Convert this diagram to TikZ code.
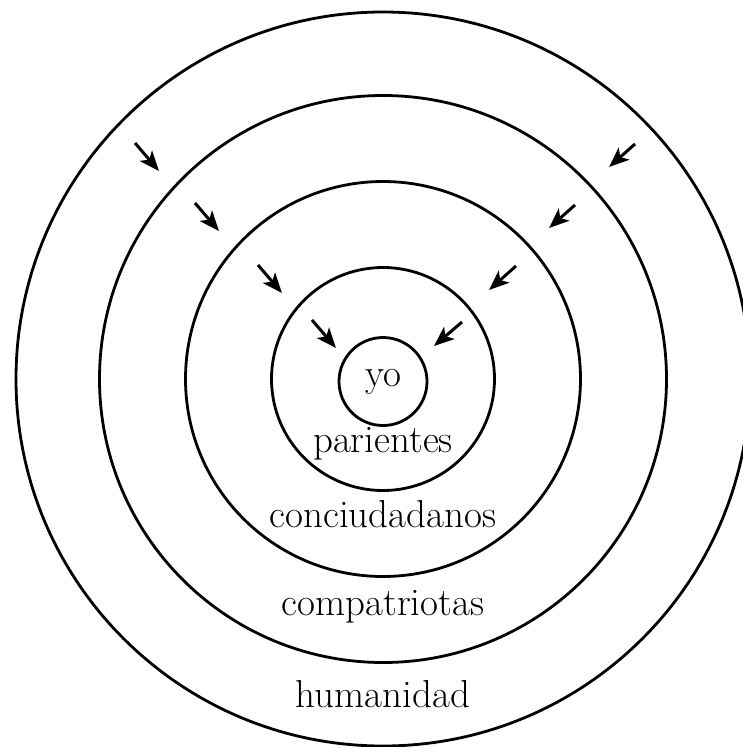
\documentclass[tikz,border=0pt]{standalone}
\usetikzlibrary{arrows.meta}
\begin{document}
\begin{tikzpicture}[x=1pt,y=-1pt,
  ring/.style={draw=black,line width=2.8pt},
  lbl/.style={anchor=base,inner sep=0pt,font=\fontsize{39}{44}\selectfont},
  inarrow/.style={line width=3pt,-{Stealth[length=20pt,width=16pt,inset=5pt]}}]
\useasboundingbox (0,0) rectangle (743,747);
\coordinate (c) at (383,379);
\draw[ring] (c) circle[radius=367];
\draw[ring] (c) circle[radius=283.5];
\draw[ring] (c) circle[radius=197.5];
\draw[ring] (c) circle[radius=111.5];
\draw[ring] (383,381.5) circle[radius=44];
\node[lbl] (yo) at (383,386) {yo};
\node[lbl] (par) at (383,452) {parientes};
\node[lbl] (con) at (383,527) {conciudadanos};
\node[lbl] (com) at (383,615) {compatriotas};
\node[lbl] (hum) at (383,707) {humanidad};
% left arrows
\coordinate (l1a) at (135,143); \coordinate (l1b) at (159,171);
\coordinate (l2a) at (195,203); \coordinate (l2b) at (219,231);
\coordinate (l3a) at (258,265); \coordinate (l3b) at (282,293);
\coordinate (l4a) at (312,320); \coordinate (l4b) at (336,348);
% right arrows
\coordinate (r1a) at (635,144); \coordinate (r1b) at (609,167);
\coordinate (r2a) at (575,205); \coordinate (r2b) at (549,228);
\coordinate (r3a) at (516,266); \coordinate (r3b) at (489,290);
\coordinate (r4a) at (462,322); \coordinate (r4b) at (434,346);
\foreach \s in {l1,l2,l3,l4,r1,r2,r3,r4}{
  \draw[inarrow] (\s a) -- (\s b);
}
\end{tikzpicture}
\end{document}
